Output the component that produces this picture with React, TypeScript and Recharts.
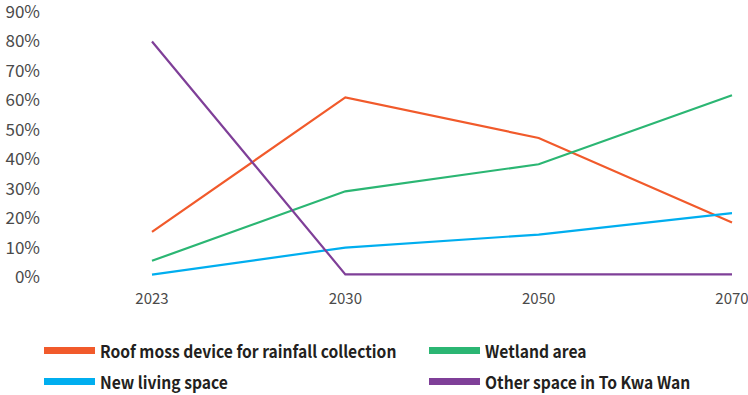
import React from "react";
import { LineChart, Line, XAxis, YAxis, Legend } from "recharts";

const years = ["2023", "2030", "2050", "2070"];
const roofMoss = [15.3, 61, 47.2, 18.5];
const wetland = [5.5, 29.1, 38.3, 61.7];
const newLiving = [0.8, 10, 14.4, 21.7];
const otherSpace = [80, 0.9, 0.9, 0.9];
const yTicks = [0, 10, 20, 30, 40, 50, 60, 70, 80, 90];

const series = [
  { key: "roof", name: "Roof moss device for rainfall collection", color: "#F15A2B" },
  { key: "wetland", name: "Wetland area", color: "#2BB673" },
  { key: "living", name: "New living space", color: "#00AEEF" },
  { key: "other", name: "Other space in To Kwa Wan", color: "#7F3F98" },
];

const data = years.map((year, i) => ({
  year,
  roof: roofMoss[i],
  wetland: wetland[i],
  living: newLiving[i],
  other: otherSpace[i],
}));

const FONT = "'Noto Sans CJK SC', 'Noto Sans', sans-serif";

// legend is a 2x2 grid: orange/green on top row, blue/purple below
function LegendGrid() {
  const colX = [44, 429];
  const rowY = [28, 59];
  return (
    <div style={{ position: "relative", width: 748, height: 88, fontFamily: FONT }}>
      {series.map((s, i) => (
        <div
          key={s.key}
          style={{
            position: "absolute",
            left: colX[i % 2],
            top: rowY[Math.floor(i / 2)],
            height: 31,
            display: "flex",
            alignItems: "center",
            whiteSpace: "nowrap",
          }}
        >
          <span style={{ display: "inline-block", width: 51, height: 7, background: s.color, marginRight: 5 }} />
          <span
            style={{
              display: "inline-block",
              fontSize: 17,
              fontWeight: 600,
              color: "#231f20",
              transform: "scaleX(0.92)",
              transformOrigin: "left center",
            }}
          >
            {s.name}
          </span>
        </div>
      ))}
    </div>
  );
}

export default function App() {
  return (
    <div style={{ position: "absolute", left: 0, top: 0, background: "#fff" }}>
      <LineChart width={748} height={395} data={data} margin={{ top: 12, right: 16, bottom: 0, left: 0 }}>
        <XAxis
          dataKey="year"
          axisLine={false}
          tickLine={false}
          tickSize={0}
          tickMargin={16}
          height={30}
          padding={{ left: 104, right: 0 }}
          tick={{ fill: "#4a4a4a", fontSize: 15, fontFamily: FONT }}
        />
        <YAxis
          domain={[0, 90]}
          ticks={yTicks}
          tickFormatter={(v) => `${v}%`}
          axisLine={false}
          tickLine={false}
          tickSize={0}
          tickMargin={8}
          width={48}
          interval={0}
          tick={{ fill: "#4a4a4a", fontSize: 17, fontFamily: FONT }}
        />
        <Legend verticalAlign="bottom" height={88} content={() => <LegendGrid />} />
        {series.map((s) => (
          <Line
            key={s.key}
            type="linear"
            dataKey={s.key}
            name={s.name}
            stroke={s.color}
            strokeWidth={2.2}
            dot={false}
            isAnimationActive={false}
          />
        ))}
      </LineChart>
    </div>
  );
}
